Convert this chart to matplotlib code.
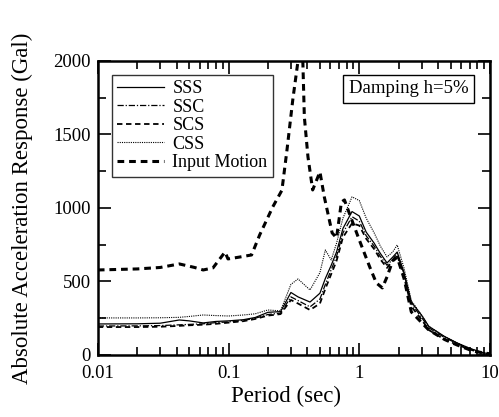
import matplotlib.pyplot as plt
from matplotlib.ticker import MultipleLocator, LogLocator, NullFormatter

plt.rcParams['font.family'] = ['Liberation Serif', 'DejaVu Serif']

# 周期 (sec)
period = [0.01, 0.02, 0.03, 0.042, 0.05, 0.064, 0.08, 0.1, 0.13, 0.16, 0.2, 0.25,
          0.30, 0.34, 0.42, 0.5, 0.55, 0.61, 0.67, 0.75, 0.88, 1.0, 1.13, 1.3,
          1.45, 1.63, 1.8, 1.95, 2.2, 2.5, 3.0, 3.4, 4.5, 5.6, 7.0, 8.5, 10.0]

sss = [211, 212, 216, 238, 232, 218, 228, 232, 240, 255, 290, 295,
       425, 395, 360, 420, 520, 610, 700, 860, 975, 945, 835, 760,
       690, 626, 665, 700, 560, 360, 270, 195, 125, 82, 45, 20, 5]
ssc = [197, 198, 200, 205, 208, 212, 220, 225, 235, 250, 275, 285,
       395, 370, 327, 380, 480, 580, 670, 830, 940, 910, 810, 740,
       670, 610, 650, 690, 550, 350, 255, 185, 118, 78, 42, 18, 4]
scs = [190, 190, 192, 198, 202, 206, 212, 220, 230, 245, 268, 278,
       374, 350, 306, 350, 450, 550, 640, 800, 895, 880, 790, 720,
       650, 592, 640, 680, 530, 330, 240, 170, 105, 70, 38, 15, 4]
css = [252, 252, 253, 256, 262, 272, 268, 265, 272, 280, 306, 300,
       480, 517, 442, 560, 714, 646, 760, 930, 1075, 1050, 930, 830,
       740, 667, 700, 748, 590, 370, 270, 195, 125, 82, 45, 20, 5]

# 入力地震動
period_in = [0.01, 0.02, 0.03, 0.042, 0.055, 0.064, 0.076, 0.094, 0.099, 0.12,
             0.15, 0.173, 0.218, 0.256, 0.28, 0.31, 0.34, 0.357, 0.37, 0.38,
             0.405, 0.44, 0.50, 0.54, 0.62, 0.67, 0.73, 0.77, 0.85, 1.0,
             1.2, 1.35, 1.5, 1.63, 1.8, 1.95, 2.2, 2.5, 3.4, 4.5, 5.6, 7.5, 10.0]
input_motion = [578, 585, 595, 619, 595, 578, 592, 700, 653, 665,
                680, 816, 1007, 1120, 1395, 1735, 2000, 2400, 2000, 1619,
                1347, 1122, 1245, 1075, 830, 796, 1040, 1054, 950, 782,
                600, 490, 456, 531, 640, 665, 520, 293, 170, 105, 68, 25, 8]

fig = plt.figure(figsize=(4.99, 4.17), dpi=100)
ax = fig.add_axes([0.196, 0.1487, 0.786, 0.7055])

ax.plot(period, sss, color='black', lw=0.9, ls='-', label='SSS')
ax.plot(period, ssc, color='black', lw=0.9, ls=(0, (5, 1.5, 1, 1.5)), label='SSC')
ax.plot(period, scs, color='black', lw=1.3, ls=(0, (3, 2)), label='SCS')
ax.plot(period, css, color='black', lw=0.8, ls=(0, (1, 1)), label='CSS')
ax.plot(period_in, input_motion, color='black', lw=2.2, ls=(0, (2.2, 1.6)), label='Input Motion')

ax.set_xscale('log')
ax.set_xlim(0.01, 10)
ax.set_ylim(0, 2000)
ax.set_xticks([0.01, 0.1, 1, 10])
ax.set_xticklabels(['0.01', '0.1', '1', '10'])
ax.xaxis.set_minor_locator(LogLocator(base=10, subs=range(2, 10)))
ax.xaxis.set_minor_formatter(NullFormatter())
ax.yaxis.set_major_locator(MultipleLocator(500))
ax.yaxis.set_minor_locator(MultipleLocator(250))

ax.tick_params(which='both', direction='in', top=True, right=True, labelsize=13.5, width=1.2)
ax.tick_params(which='major', length=9)
ax.tick_params(which='minor', length=6)
ax.tick_params(axis='x', pad=7)
ax.tick_params(axis='y', pad=5)
for s in ax.spines.values():
    s.set_linewidth(1.8)

ax.set_xlabel('Period (sec)', fontsize=16.5)
ax.xaxis.set_label_coords(0.48, -0.105)
ax.set_ylabel('Absolute Acceleration Response (Gal)', fontsize=16.5)
ax.yaxis.set_label_coords(-0.165, 0.5)

leg = ax.legend(loc='upper left', bbox_to_anchor=(0.036, 0.952), fontsize=13,
                frameon=True, fancybox=False, edgecolor='black', handlelength=2.6,
                handletextpad=0.45, borderpad=0.3, labelspacing=0.08, borderaxespad=0)
leg.get_frame().set_linewidth(1.0)

ax.text(0.945, 0.905, 'Damping h=5%', transform=ax.transAxes, ha='right', va='center',
        fontsize=13.5, bbox=dict(boxstyle='square,pad=0.3', fc='white', ec='black', lw=1.0))

fig.savefig('out.png', dpi=100)
